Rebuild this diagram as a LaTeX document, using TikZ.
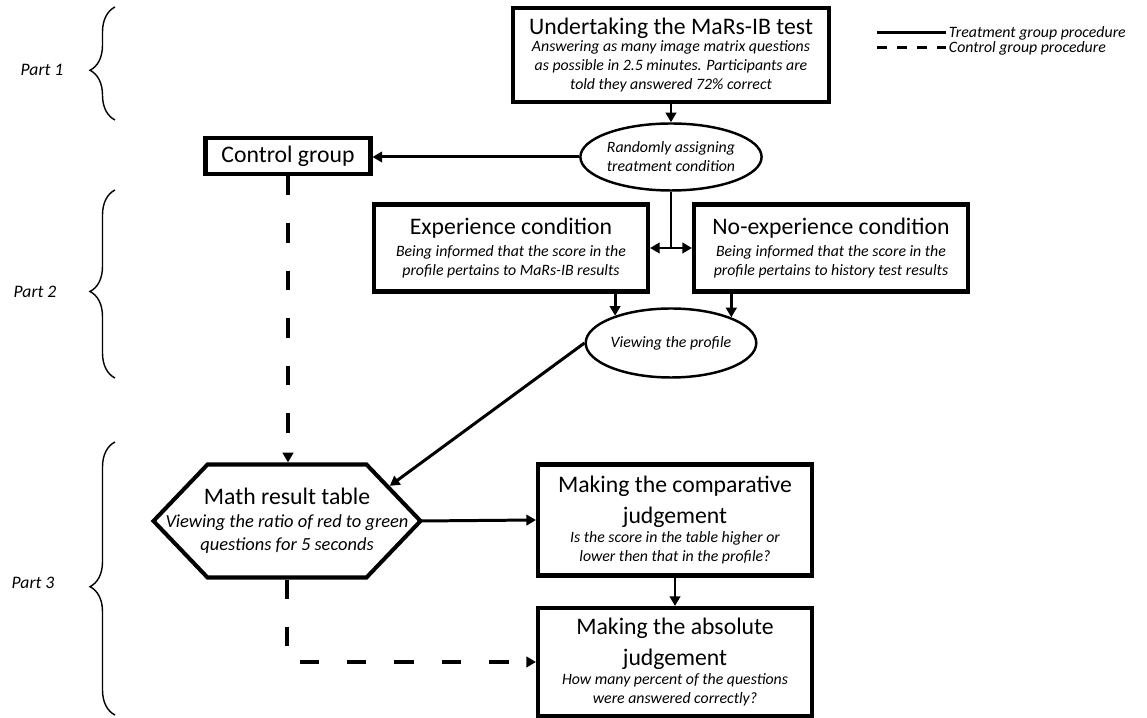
\documentclass[tikz,border=0pt]{standalone}
\usepackage{fontspec}
\setmainfont{Carlito}
\usepackage{tikz}
\usetikzlibrary{shapes.geometric, arrows.meta, calc, decorations.pathreplacing}

\newcommand{\headtext}{\fontsize{13.5}{16}\selectfont\upshape}
\newcommand{\subtext}{\fontsize{9}{10.8}\selectfont\itshape}
\newcommand{\bigsubtext}{\fontsize{10.5}{13}\selectfont\itshape}

\tikzset{
  stagebox/.style={draw, rectangle, line width=2.3pt, align=center, inner sep=2pt, font=\subtext},
  choiceoval/.style={draw, ellipse, line width=1.4pt, align=center, inner sep=0pt, font=\subtext},
  flowarrow/.style={line width=1.7pt, -{Triangle[length=5.5pt, width=6pt]}},
  ctrlarrow/.style={line width=2pt, dash pattern=on 11pt off 16pt, -{Triangle[length=5.5pt, width=6pt]}},
  partbrace/.style={decorate, decoration={brace, amplitude=0.5cm}, line width=0.8pt},
  partlabel/.style={font=\fontsize{10}{12}\selectfont\itshape},
  legendtext/.style={anchor=west, inner sep=1.5pt, font=\fontsize{9}{10.8}\selectfont\itshape}
}

\begin{document}
\begin{tikzpicture}
  \useasboundingbox (0, 0) rectangle (22.94, -14.36);

  % Parts
  \node[partlabel] (part1) at (0.84, -1.40) {Part 1};
  \node[partlabel] (part2) at (0.70, -5.84) {Part 2};
  \node[partlabel] (part3) at (0.66, -11.66) {Part 3};
  \draw[partbrace, decoration={aspect=0.44}] (2.30, -2.40) -- (2.30, -0.14);
  \draw[partbrace, decoration={aspect=0.46}] (2.30, -7.56) -- (2.30, -3.80);
  \draw[partbrace, decoration={aspect=0.47}] (2.30, -14.30) -- (2.30, -8.84);

  % Legend
  \node[legendtext] (legtreat) at (18.92, -0.66) {Treatment group procedure};
  \node[legendtext] (legctrl) at (18.92, -0.96) {Control group procedure};
  \coordinate (legA) at (17.54, -0.66);
  \coordinate (legB) at (17.54, -0.96);
  \draw[line width=1.7pt] (legA) -- (legtreat.west);
  \draw[line width=1.7pt, dash pattern=on 5.7pt off 5.7pt] (legB) -- (legctrl.west);

  % MaRs-IB test and assignment
  \node[stagebox, minimum width=6.32cm, minimum height=1.88cm] (test) at (13.42, -1.10) {{\headtext Undertaking the MaRs-IB test}\\[-1pt]{\subtext Answering as many image matrix questions}\\{\subtext as possible in 2.5 minutes. Participants are}\\{\subtext told they answered 72\% correct}};
  \node[choiceoval, minimum width=3.28cm, minimum height=1.34cm] (rand) at (13.42, -3.14) {{\subtext Randomly assigning}\\{\subtext treatment condition}};
  \node[stagebox, minimum width=3.30cm, minimum height=0.72cm] (ctrl) at (5.76, -3.12) {\headtext Control group};

  % Conditions
  \node[stagebox, minimum width=5.48cm, minimum height=1.74cm] (exp) at (10.22, -4.96) {{\headtext Experience condition}\\[1.5pt]{\subtext Being informed that the score in the}\\{\subtext profile pertains to MaRs-IB results}};
  \node[stagebox, minimum width=5.48cm, minimum height=1.74cm] (noexp) at (16.62, -4.96) {{\headtext No-experience condition}\\[1.5pt]{\subtext Being informed that the score in the}\\{\subtext profile pertains to history test results}};
  \node[choiceoval, minimum width=3.28cm, minimum height=1.38cm] (view) at (13.42, -6.86) {\subtext Viewing the profile};

  % Judgements
  \node[rectangle, minimum width=5.34cm, minimum height=2.26cm, inner sep=0pt, outer sep=0pt, align=center, font=\bigsubtext] (math) at (5.74, -10.42) {{\headtext Math result table}\\{\bigsubtext Viewing the ratio of red to green}\\{\bigsubtext questions for 5 seconds}};
  \coordinate (mathne) at ($(math.north east)+(-1.08, 0)$);
  \coordinate (mathedge) at ($(mathne)!0.4!(math.east)$);
  \draw[line width=2.3pt, line join=miter] (math.west) -- ($(math.north west)+(1.08, 0)$) -- (mathne) -- (math.east) -- ($(math.south east)+(-1.08, 0)$) -- ($(math.south west)+(1.08, 0)$) -- cycle;
  \node[stagebox, minimum width=5.48cm, minimum height=2.22cm] (comp) at (13.50, -10.40) {{\headtext Making the comparative}\\[5.2pt]{\headtext judgement}\\{\subtext Is the score in the table higher or}\\{\subtext lower then that in the profile?}};
  \node[stagebox, minimum width=5.48cm, minimum height=2.16cm] (abs) at (13.50, -13.24) {{\headtext Making the absolute}\\[5.2pt]{\headtext judgement}\\{\subtext How many percent of the questions}\\{\subtext were answered correctly?}};

  % Treatment group
  \draw[flowarrow] (test.south) -- (rand.north);
  \draw[flowarrow] (rand.west) -- (rand.west -| ctrl.east);
  \draw[line width=1.7pt] (rand.south) -- (rand.south |- exp.east) coordinate (split);
  \draw[line width=1.7pt, {Triangle[length=5.5pt, width=6pt]}-{Triangle[length=5.5pt, width=6pt]}] (exp.east) -- (noexp.west);
  \draw[flowarrow] (exp.south -| view.154) -- (view.154);
  \draw[flowarrow] (noexp.south -| view.23) -- (view.23);
  \draw[flowarrow, shorten >=1.2pt] (view.west) -- (mathedge);
  \draw[flowarrow] (math.east) -- (comp.west);
  \draw[flowarrow] (comp.south) -- (abs.north);

  % Control group
  \draw[ctrlarrow, shorten >=1.2pt] (ctrl.south) -- (ctrl.south |- math.north);
  \draw[ctrlarrow] ([yshift=-1.2pt]math.south) |- (abs.west);
\end{tikzpicture}
\end{document}
